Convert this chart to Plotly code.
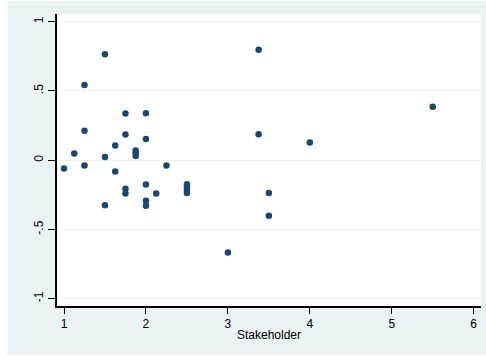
import plotly.graph_objects as go

stakeholder = [1.0, 1.125, 1.25, 1.25, 1.25, 1.5, 1.5, 1.5, 1.625, 1.625,
               1.75, 1.75, 1.75, 1.75, 1.875, 1.875, 1.875,
               2.0, 2.0, 2.0, 2.0, 2.0, 2.125, 2.25,
               2.5, 2.5, 2.5, 2.5, 3.0, 3.375, 3.375, 3.5, 3.5, 4.0, 5.5]
residual = [-0.060, 0.048, 0.544, 0.212, -0.039, 0.765, 0.024, -0.325, 0.106, -0.082,
            0.337, 0.185, -0.207, -0.241, 0.070, 0.051, 0.031,
            0.339, 0.154, -0.176, -0.293, -0.329, -0.241, -0.039,
            -0.174, -0.195, -0.213, -0.236, -0.667, 0.797, 0.188, -0.236, -0.402, 0.128, 0.387]

x_ticks = [1, 2, 3, 4, 5, 6]
y_ticks = [-1, -0.5, 0, 0.5, 1]
y_tick_labels = ["-1", "-.5", "0", ".5", "1"]

navy = "#1a476f"
bg = "#eaf2f3"
font = "Liberation Sans, Arial, sans-serif"

fig = go.Figure()
fig.add_trace(go.Scatter(
    x=stakeholder, y=residual, mode="markers",
    marker=dict(color=navy, size=6.5, line=dict(width=0)),
    showlegend=False,
))

fig.update_layout(
    width=486, height=356,
    margin=dict(l=57, r=5, t=14, b=50),
    paper_bgcolor="white",
    plot_bgcolor="rgba(0,0,0,0)",
    font=dict(family=font, size=12, color="black"),
    shapes=[
        dict(type="rect", xref="paper", yref="paper",
             x0=-0.1164, x1=1.02, y0=-0.168, y1=1.0445,
             fillcolor=bg, line=dict(width=0), layer="below"),
        dict(type="rect", xref="paper", yref="paper",
             x0=0, x1=1, y0=0, y1=1,
             fillcolor="white", line=dict(width=0), layer="below"),
    ],
)

fig.update_xaxes(
    range=[0.9145, 6.089],
    tickvals=x_ticks, ticktext=[str(t) for t in x_ticks],
    ticks="outside", ticklen=6, tickwidth=1, tickcolor="black",
    showline=True, linecolor="black", linewidth=1.5,
    showgrid=False, zeroline=False,
    title=dict(text="Stakeholder", font=dict(size=12), standoff=0),
    tickfont=dict(size=12),
)
fig.update_yaxes(
    range=[-1.053, 1.056],
    tickvals=y_ticks, ticktext=y_tick_labels, tickangle=-90,
    ticks="outside", ticklen=7, tickwidth=1, tickcolor="black",
    showline=True, linecolor="black", linewidth=1.5,
    showgrid=True, gridcolor=bg, gridwidth=1, zeroline=False,
    tickfont=dict(size=12),
)

fig.write_html("out.html", config={"displayModeBar": False},
               post_script="document.body.style.margin='0px';document.body.style.overflow='hidden';")
